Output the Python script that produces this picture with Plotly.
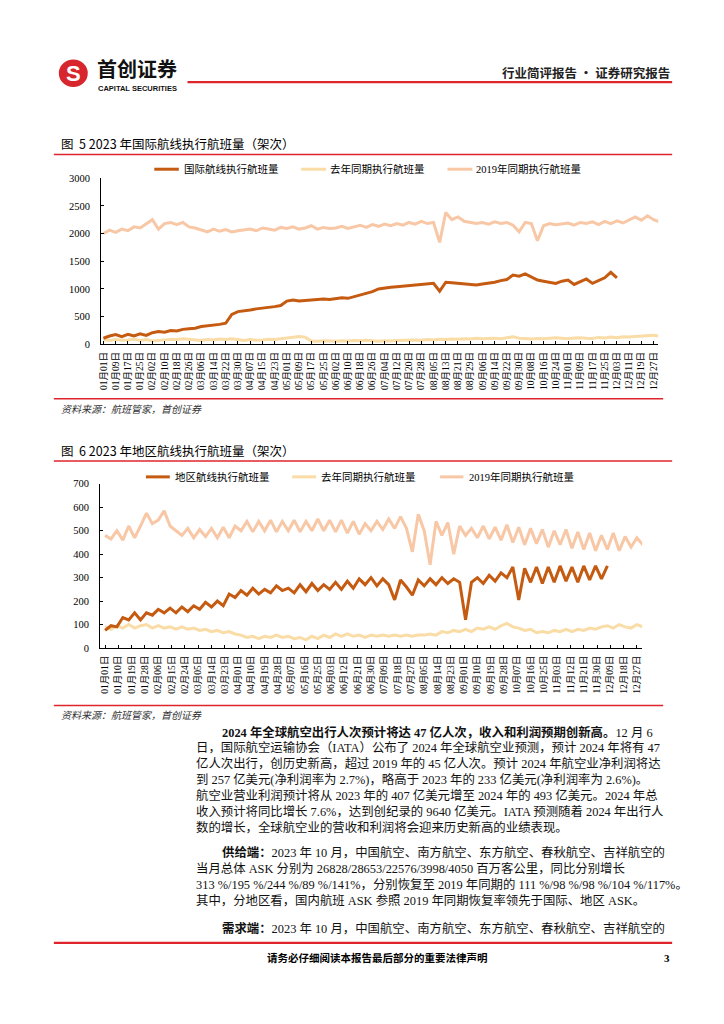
import pandas as pd
import plotly.graph_objects as go

intl_2023 = [110, 150, 175, 140, 180, 150, 190, 160, 210, 230, 220, 250, 240, 270, 280, 290,
             320, 330, 340, 360, 380, 540, 590, 600, 620, 640, 650, 660, 680, 700, 780, 800,
             780, 790, 800, 810, 820, 810, 830, 840, 830, 860, 900, 920, 950, 1000, 1020, 1030,
             1040, 1050, 1060, 1070, 1080, 1090, 1100, 960, 1120, 1110, 1100, 1090, 1080, 1070,
             1090, 1100, 1120, 1150, 1170, 1250, 1230, 1270, 1220, 1160, 1140, 1120, 1100, 1140,
             1160, 1080, 1130, 1180, 1100, 1150, 1200, 1300, 1200]
intl_last = [80, 70, 85, 75, 80, 90, 70, 85, 60, 75, 80, 90, 85, 100, 90, 80, 70, 85, 80, 95,
             85, 100, 80, 70, 85, 75, 80, 90, 85, 100, 110, 120, 140, 130, 60, 55, 65, 60, 55, 65,
             60, 70, 65, 75, 60, 55, 65, 60, 70, 75, 70, 80, 75, 85, 80, 90, 85, 95, 90, 100, 95,
             110, 100, 105, 110, 100, 120, 135, 110, 100, 95, 105, 100, 110, 120, 110, 100, 115,
             120, 110, 105, 125, 115, 130, 120, 135, 130, 140, 145, 150, 165, 150]
intl_2019 = [2000, 2060, 2020, 2080, 2050, 2120, 2100, 2180, 2250, 2080, 2180, 2200, 2160, 2200,
             2120, 2100, 2060, 2030, 2080, 2040, 2070, 2030, 2050, 2060, 2080, 2050, 2100, 2080,
             2060, 2110, 2090, 2120, 2080, 2100, 2140, 2080, 2110, 2090, 2100, 2130, 2090, 2120,
             2150, 2110, 2160, 2130, 2170, 2140, 2180, 2150, 2200, 2170, 2220, 2180, 2200, 1840,
             2380, 2250, 2300, 2220, 2200, 2180, 2200, 2170, 2210, 2180, 2200, 2150, 2030, 2200,
             2180, 1870, 2140, 2180, 2160, 2170, 2190, 2150, 2200, 2180, 2210, 2160, 2220, 2180,
             2230, 2190, 2250, 2300, 2240, 2320, 2250, 2210]

reg_2023 = [75, 95, 90, 130, 120, 150, 120, 150, 140, 165, 150, 170, 150, 175, 155, 180, 165,
            195, 175, 200, 180, 230, 215, 245, 225, 255, 230, 250, 235, 265, 245, 255, 235, 270,
            240, 275, 245, 270, 250, 280, 250, 285, 255, 295, 270, 300, 265, 295, 270, 205, 290,
            260, 225, 290, 265, 295, 270, 300, 275, 295, 280, 120, 280, 300, 275, 310, 285, 320,
            300, 345, 205, 340, 280, 345, 275, 345, 280, 350, 285, 345, 280, 350, 290, 350, 295, 350]
reg_last = [90, 80, 95, 85, 100, 85, 95, 100, 85, 95, 85, 90, 80, 90, 80, 85, 75, 80, 70, 75,
            65, 70, 60, 55, 45, 50, 40, 50, 45, 55, 45, 50, 40, 45, 35, 50, 40, 55, 45, 60, 50,
            60, 50, 55, 45, 55, 50, 55, 50, 55, 50, 55, 50, 55, 55, 60, 55, 70, 65, 75, 70, 80,
            70, 85, 80, 90, 80, 95, 105, 90, 85, 75, 80, 65, 70, 65, 75, 70, 80, 70, 80, 75, 85,
            80, 90, 95, 85, 100, 90, 85, 100, 90]
reg_2019 = [480, 465, 500, 460, 520, 470, 520, 575, 530, 545, 585, 520, 500, 480, 510, 470, 505,
            475, 510, 470, 515, 470, 520, 500, 540, 495, 540, 500, 545, 495, 540, 500, 545, 495,
            540, 500, 550, 500, 545, 495, 545, 490, 540, 485, 530, 500, 540, 505, 550, 510, 560,
            510, 410, 570, 500, 355, 540, 480, 535, 400, 520, 480, 510, 470, 520, 465, 515, 460,
            525, 450, 515, 440, 510, 445, 505, 430, 500, 440, 505, 425, 495, 420, 490, 415, 480,
            420, 490, 415, 475, 430, 470, 440]

series_names = ["国际航线执行航班量", "去年同期执行航班量", "2019年同期执行航班量"]
series_names2 = ["地区航线执行航班量", "去年同期执行航班量", "2019年同期执行航班量"]
colors = ["#C55A11", "#F9DCA6", "#F8C7A6"]

body_lines = [
    (219, 735, "<b>2024 年全球航空出行人次预计将达 47 亿人次，收入和利润预期创新高。</b>12 月 6"),
    (193, 751, "日，国际航空运输协会（IATA）公布了 2024 年全球航空业预测，预计 2024 年将有 47"),
    (193, 767, "亿人次出行，创历史新高，超过 2019 年的 45 亿人次。预计 2024 年航空业净利润将达"),
    (193, 783, "到 257 亿美元(净利润率为 2.7%)，略高于 2023 年的 233 亿美元(净利润率为 2.6%)。"),
    (193, 799, "航空业营业利润预计将从 2023 年的 407 亿美元增至 2024 年的 493 亿美元。2024 年总"),
    (193, 815, "收入预计将同比增长 7.6%，达到创纪录的 9640 亿美元。IATA 预测随着 2024 年出行人"),
    (193, 831, "数的增长，全球航空业的营收和利润将会迎来历史新高的业绩表现。"),
    (219, 857, "<b>供给端：</b>2023 年 10 月，中国航空、南方航空、东方航空、春秋航空、吉祥航空的"),
    (193, 873, "当月总体 ASK 分别为 26828/28653/22576/3998/4050 百万客公里，同比分别增长"),
    (193, 889, "313 %/195 %/244 %/89 %/141%，分别恢复至 2019 年同期的 111 %/98 %/98 %/104 %/117%。"),
    (193, 905, "其中，分地区看，国内航班 ASK 参照 2019 年同期恢复率领先于国际、地区 ASK。"),
    (219, 934, "<b>需求端：</b>2023 年 10 月，中国航空、南方航空、东方航空、春秋航空、吉祥航空的"),
]

# ---------------- helpers ----------------
W, H = 724, 1024
def px(x):
    return x / W
def py(y):
    return 1 - y / H

SERIF = "Liberation Serif, Noto Sans CJK SC"
CJK = "Noto Sans CJK SC"
RED = "#E0242B"

def dates(n):
    return pd.date_range("2023-01-01", periods=n, freq="4D")

fig = go.Figure()

# chart 1
for vals, c in [(intl_2019, colors[2]), (intl_last, colors[1]), (intl_2023, colors[0])]:
    fig.add_trace(go.Scatter(x=dates(len(vals)), y=vals, mode="lines",
                             line=dict(color=c, width=3), xaxis="x", yaxis="y",
                             showlegend=False, hoverinfo="skip"))
# chart 2
for vals, c in [(reg_2019, colors[2]), (reg_last, colors[1]), (reg_2023, colors[0])]:
    fig.add_trace(go.Scatter(x=dates(len(vals)), y=vals, mode="lines",
                             line=dict(color=c, width=3), xaxis="x2", yaxis="y2",
                             showlegend=False, hoverinfo="skip"))

xcommon = dict(type="date", tickformat="%m月%d日", tickangle=-90, ticks="inside", ticklen=3,
               tickcolor="black", showline=True, linecolor="black", linewidth=1,
               showgrid=False, zeroline=False, tick0="2023-01-01",
               tickfont=dict(family=SERIF, size=9.5, color="black"), ticklabelstandoff=3)
ycommon = dict(ticks="inside", ticklen=3, tickcolor="black", showline=True, linecolor="black",
               linewidth=1, showgrid=False, zeroline=False,
               tickfont=dict(family=SERIF, size=10.5, color="black"), ticklabelstandoff=8)

fig.update_layout(
    width=W, height=H, margin=dict(l=0, r=0, t=0, b=0),
    paper_bgcolor="white", plot_bgcolor="white", showlegend=False,
    xaxis=dict(domain=[px(99.3), px(658)], anchor="y",
               range=["2022-12-30 10:00", "2023-12-30 00:00"], dtick=8 * 86400000, **xcommon),
    yaxis=dict(domain=[py(343), py(175)], anchor="x", range=[0, 3000], dtick=500, **ycommon),
    xaxis2=dict(domain=[px(98.3), px(642)], anchor="y2",
                range=["2022-12-28 14:00", "2023-12-30 14:00"], dtick=9 * 86400000, **xcommon),
    yaxis2=dict(domain=[py(650), py(484)], anchor="x2", range=[0, 700], dtick=100, **ycommon),
)

shapes = []
ann = []

def hline(x0, x1, y, color=RED, width=1.5):
    shapes.append(dict(type="line", xref="paper", yref="paper", x0=px(x0), x1=px(x1),
                       y0=py(y), y1=py(y), line=dict(color=color, width=width)))

def text(x, y, t, size, family=CJK, color="black", xanchor="left", style="normal"):
    ann.append(dict(xref="paper", yref="paper", x=px(x), y=py(y), text=t, showarrow=False,
                    xanchor=xanchor, yanchor="middle",
                    font=dict(family=family, size=size, color=color, style=style)))

# header
shapes.append(dict(type="circle", xref="paper", yref="paper", x0=px(57), x1=px(86),
                   y0=py(83), y1=py(55), fillcolor="#D7262D", line=dict(width=0)))
text(71.5, 69, "<b>S</b>", 22, family="Liberation Sans", color="white", xanchor="center")
text(93, 64, "<b>首创证券</b>", 20, family=CJK, color="#111")
text(94, 84, "<b>CAPITAL SECURITIES</b>", 7.5, family="Liberation Sans", color="#111")
hline(186, 672, 78, width=2.2)
text(672, 68, "<b>行业简评报告 · 证券研究报告</b>", 12.5, xanchor="right", color="#222")

# chart 1 title / legend / source
text(57, 140, "图  5 2023 年国际航线执行航班量（架次）", 12.5)
hline(52, 672, 151)
leg1 = [(152.7, 177.3, 180), (300, 325, 327), (446.7, 471.7, 473)]
for (a, b, t), c, name in zip(leg1, colors, series_names):
    hline(a, b, 166, color=c, width=3)
    text(t, 166, name, 10.5, family=SERIF)
hline(52, 663, 398)
text(57, 408, "资料来源：航班管家，首创证券", 10, color="#333", style="italic")

# chart 2 title / legend / source
text(57, 450, "图  6 2023 年地区航线执行航班量（架次）", 12.5)
hline(52, 672, 461)
leg2 = [(144.3, 168.3, 171.5), (291, 315, 318), (439.3, 462.7, 466)]
for (a, b, t), c, name in zip(leg2, colors, series_names2):
    hline(a, b, 477, color=c, width=3)
    text(t, 477, name, 10.5, family=SERIF)
hline(52, 663, 708)
text(57, 717, "资料来源：航班管家，首创证券", 10, color="#333", style="italic")

# body text
for x, y, t in body_lines:
    text(x, y, t, 12.4, family=SERIF, color="#111")

# footer
hline(52, 672, 948, width=2.2)
text(377, 963, "<b>请务必仔细阅读本报告最后部分的重要法律声明</b>", 10.5, xanchor="center")
text(672, 963, "<b>3</b>", 11, family=SERIF, xanchor="right")

fig.update_layout(shapes=shapes, annotations=ann)

fig.write_html("out.html", config={"displayModeBar": False},
               post_script="document.body.style.margin='0';")
